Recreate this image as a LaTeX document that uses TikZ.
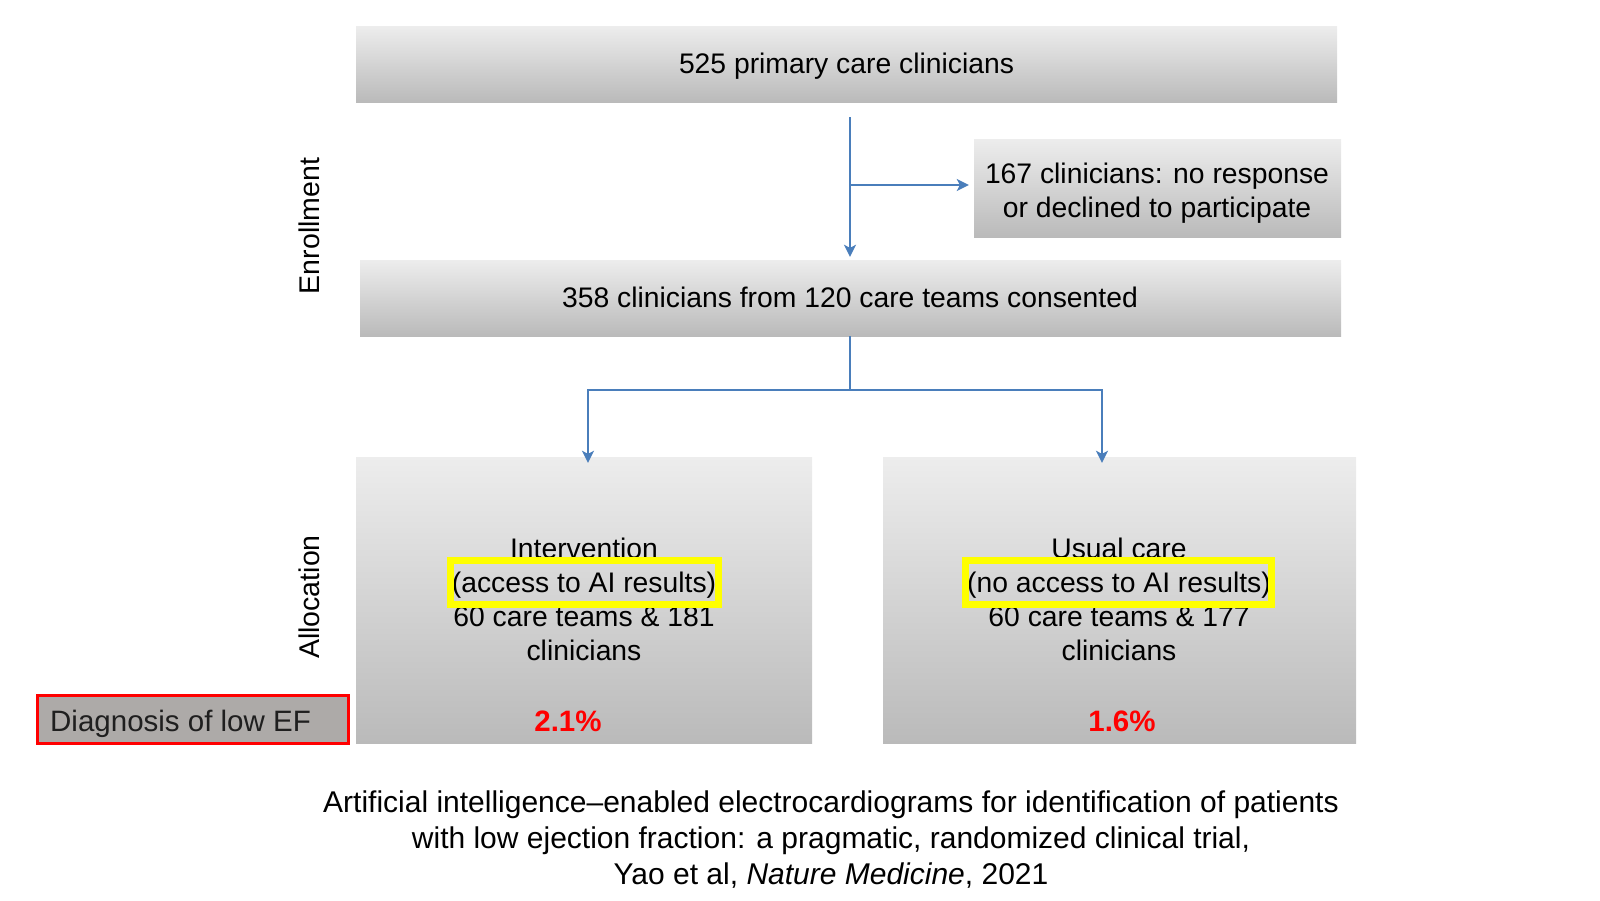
\documentclass[tikz,border=0pt]{standalone}
\usepackage{fontspec}
\setmainfont{Liberation Sans}
\usetikzlibrary{arrows.meta}
\definecolor{flowblue}{HTML}{4A7EBB}
\definecolor{gtop}{HTML}{EDEDED}
\definecolor{gbot}{HTML}{BABABA}
\definecolor{efgray}{HTML}{ADAAA8}
\definecolor{hiyellow}{HTML}{FFFF00}
\definecolor{pctred}{HTML}{FF0000}
\begin{document}
\begin{tikzpicture}[x=1pt,y=-1pt,
  gbox/.style={rectangle, inner sep=0pt, top color=gtop, bottom color=gbot, draw=none},
  flow/.style={draw=flowblue, line width=1.8pt},
  tip/.style={-{Stealth[length=12pt,width=12pt,inset=3pt]}},
  txt/.style={font=\fontsize{28.3}{34}\selectfont, align=center, inner sep=0pt, text=black},
  pct/.style={font=\fontsize{29.5}{34}\selectfont\bfseries, inner sep=0pt, text=pctred},
  hibox/.style={rectangle, draw=hiyellow, line width=7pt, inner sep=0pt, fill=none},
  side/.style={font=\fontsize{28.5}{34}\selectfont, inner sep=0pt, rotate=90},
  captiontext/.style={font=\fontsize{30}{36}\selectfont, align=center, inner sep=0pt},
]
\useasboundingbox (0,0) rectangle (1600,900);

% boxes
\node[gbox, minimum width=981pt, minimum height=76pt] (b1) at (846.5,64) {};
\node[gbox, minimum width=367pt, minimum height=98pt] (b2) at (1157.5,188) {};
\node[gbox, minimum width=981pt, minimum height=76pt] (b3) at (850.5,298) {};
\node[gbox, minimum width=456pt, minimum height=286pt] (b4) at (584,600) {};
\node[gbox, minimum width=473pt, minimum height=286pt] (b5) at (1119.5,600) {};

% texts
\node[txt] (t1) at (846.5,66) {525 primary care clinicians};
\node[txt] (t2) at (1157,193) {167 clinicians: no response\\or declined to participate};
\node[txt] (t3) at (850,297) {358 clinicians from 120 care teams consented};
\node[txt] (t4) at (584,599) {Intervention\\(access to AI results)\\60 care teams \& 181\\clinicians};
\node[txt] (t5) at (1119,599) {Usual care\\(no access to AI results)\\60 care teams \& 177\\clinicians};
\node[pct] (p4) at (568,721) {2.1\%};
\node[pct] (p5) at (1122,721) {1.6\%};

% yellow highlights
\node[hibox, minimum width=268pt, minimum height=44pt] (y1) at (584.5,582.5) {};
\node[hibox, minimum width=306pt, minimum height=44pt] (y2) at (1118.5,582.5) {};

% diagnosis label
\node[rectangle, draw=pctred, line width=3.5pt, fill=efgray, minimum width=311pt, minimum height=48pt, inner sep=0pt] (ef) at (193,719.5) {};
\node[font=\fontsize{29.5}{34}\selectfont, text={black!88}, anchor=west, inner sep=0pt] (eft) at (50,724) {Diagnosis of low EF};

% side labels
\node[side] (enr) at (309,226) {Enrollment};
\node[side] (alc) at (309,597) {Allocation};

% connectors
\coordinate (s0) at (850,117);
\coordinate (br) at (850,185);
\coordinate (sp) at (850,390);
\coordinate (la) at (588,390);
\coordinate (ra) at (1102,390);
\draw[flow, tip, shorten >=3pt] (s0) -- (s0 |- b3.north);
\draw[flow, tip, shorten >=5pt] (br) -- (br -| b2.west);
\draw[flow] (b3.south -| sp) -- (sp);
\draw[flow, tip, shorten >=-6pt] (sp) -- (la) -- (la |- b4.north);
\draw[flow, tip, shorten >=-6pt] (sp) -- (ra) -- (ra |- b5.north);

% caption
\node[captiontext] (caption) at (831,840) {Artificial intelligence--enabled electrocardiograms for identification of patients\\with low ejection fraction: a pragmatic, randomized clinical trial,\\Yao et al, \textit{Nature Medicine}, 2021};
\end{tikzpicture}
\end{document}
